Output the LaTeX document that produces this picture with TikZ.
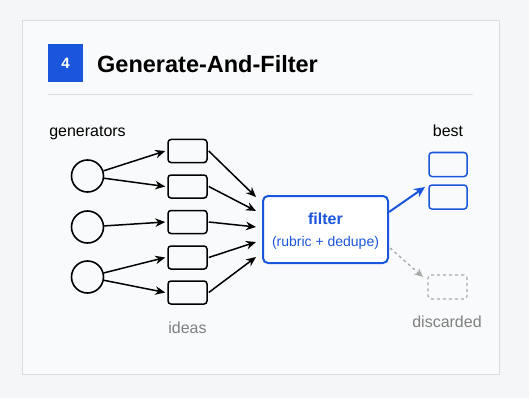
\documentclass[tikz,border=0pt]{standalone}
\usepackage{fontspec}
\setmainfont{Liberation Sans}
\usetikzlibrary{arrows.meta}
\definecolor{pagebg}{HTML}{F5F6F8}
\definecolor{cardbg}{HTML}{F9FAFB}
\definecolor{cardline}{HTML}{DADCE0}
\definecolor{rulegray}{HTML}{D9DDE3}
\definecolor{accent}{HTML}{1A56DB}
\definecolor{mutegray}{HTML}{808080}
\definecolor{dashgray}{HTML}{A8A8A8}
\tikzset{
  gen/.style={circle,draw=black,line width=1.6pt,minimum size=32pt,inner sep=0pt},
  idea/.style={rectangle,rounded corners=3pt,draw=black,line width=1.5pt,minimum width=39pt,minimum height=23pt,inner sep=0pt},
  bestbox/.style={rectangle,rounded corners=3pt,draw=accent,line width=1.5pt,minimum width=38pt,minimum height=24pt,inner sep=0pt},
  discbox/.style={rectangle,rounded corners=3pt,draw=dashgray,dashed,line width=1.2pt,minimum width=39pt,minimum height=24pt,inner sep=0pt},
  flow/.style={line width=1.5pt,-{Stealth[length=10pt,width=8.5pt]}},
  lbl/.style={font=\fontsize{16}{18}\selectfont,inner sep=0pt}
}
\begin{document}
\begin{tikzpicture}[x=1pt,y=-1pt]
\fill[pagebg] (0,0) rectangle (529,398);
\useasboundingbox (0,0) rectangle (529,398);
\draw[cardline,fill=cardbg,line width=1pt] (22,21) rectangle (499,374);
% header
\node[fill=accent,minimum width=35pt,minimum height=38pt,inner sep=0pt,text=white,font=\bfseries\fontsize{15}{17}\selectfont] (num) at (65.5,63) {4};
\node[anchor=west,inner sep=0pt,font=\bfseries\fontsize{23.5}{26}\selectfont] (title) at (97,64) {Generate-And-Filter};
\draw[rulegray,line width=1pt] (48,95) -- (473,95);
% generators
\node[lbl] (genlbl) at (87.5,133) {generators};
\node[gen] (g1) at (87.5,176) {};
\node[gen] (g2) at (87.5,227) {};
\node[gen] (g3) at (87.5,277) {};
% ideas
\node[idea] (i1) at (187.5,151) {};
\node[idea] (i2) at (187.5,186.5) {};
\node[idea] (i3) at (187.5,222) {};
\node[idea] (i4) at (187.5,257.5) {};
\node[idea] (i5) at (187.5,292.5) {};
\node[lbl,text=mutegray] (idealbl) at (187.5,328) {ideas};
% filter
\node[rectangle,rounded corners=5pt,draw=accent,fill=white,line width=2pt,minimum width=125pt,minimum height=67pt,inner sep=0pt] (filt) at (325.5,229.5) {};
\node[inner sep=0pt,text=accent,font=\bfseries\fontsize{16}{18}\selectfont] (filtt) at (325.5,219) {filter};
\node[inner sep=0pt,text=accent,font=\fontsize{14}{16}\selectfont] (filts) at (325.5,243) {(rubric + dedupe)};
% best
\node[lbl] (bestlbl) at (448,131) {best};
\node[bestbox] (b1) at (448,164.5) {};
\node[bestbox] (b2) at (448,197) {};
% discarded
\node[discbox] (d1) at (447.5,287) {};
\node[lbl,text=mutegray] (disclbl) at (447,322) {discarded};
% arrows generators -> ideas
\draw[flow] (g1) -- ([xshift=-2pt]i1.west);
\draw[flow] (g1) -- ([xshift=-2pt]i2.west);
\draw[flow] (g2) -- ([xshift=-2pt]i3.west);
\draw[flow] (g3) -- ([xshift=-2pt]i4.west);
\draw[flow] (g3) -- ([xshift=-2pt]i5.west);
% ideas -> filter
\coordinate (f1) at (256,197);
\coordinate (f2) at (256,211);
\coordinate (f3) at (256,227);
\coordinate (f4) at (256,242);
\coordinate (f5) at (256,257);
\draw[flow] ([xshift=1pt]i1.east) -- (f1);
\draw[flow] ([xshift=1pt]i2.east) -- (f2);
\draw[flow] ([xshift=1pt]i3.east) -- (f3);
\draw[flow] ([xshift=1pt]i4.east) -- (f4);
\draw[flow] ([xshift=1pt]i5.east) -- (f5);
% filter -> best / discarded
\coordinate (fo1) at (389,212);
\coordinate (fo2) at (390,248);
\draw[accent,line width=2pt,-{Stealth[length=11pt,width=10pt]}] (fo1) -- (425,187);
\draw[dashgray,dashed,line width=1.3pt,-{Stealth[length=9pt,width=8pt]}] (fo2) -- (423,277);
\end{tikzpicture}
\end{document}
